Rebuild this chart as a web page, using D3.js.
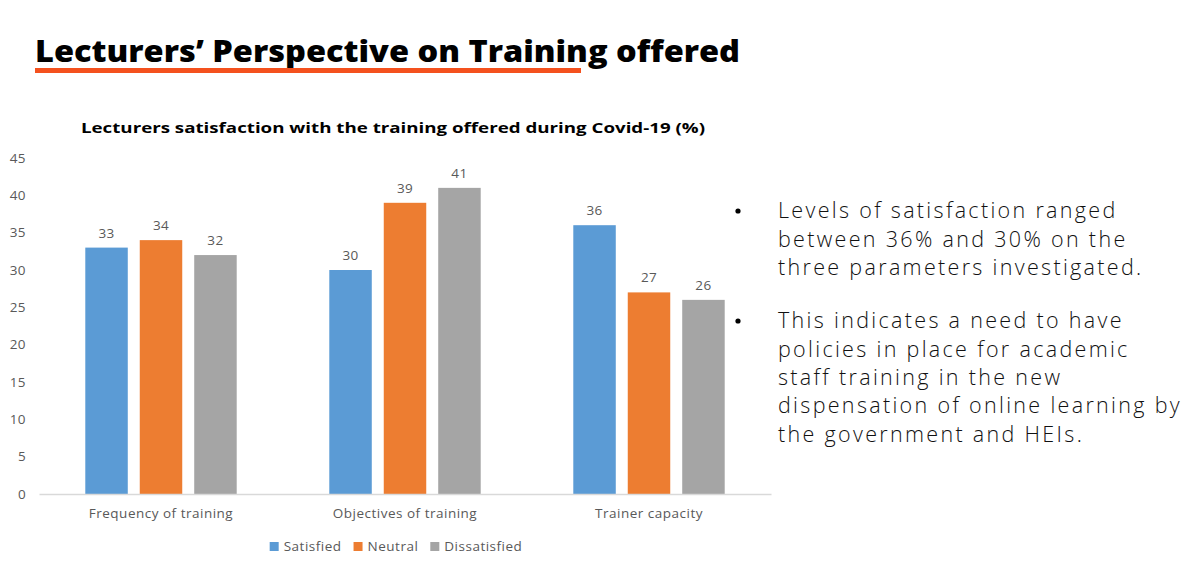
<!DOCTYPE html>
<html>
  <head>
    <meta charset="utf-8">
    <title>Lecturers' Perspective on Training offered</title>
    <script src="https://cdn.jsdelivr.net/npm/d3@7"></script>
    <style>
      body { margin: 0; background: #fff; }
      svg { display: block; }
    </style>
  </head>
  <body>
    <div id="slide"></div>
    <script>

    // data (%)
    var categories = ["Frequency of training", "Objectives of training", "Trainer capacity"];
    var seriesNames = ["Satisfied", "Neutral", "Dissatisfied"];
    var satisfied = [33, 30, 36];
    var neutral = [34, 39, 27];
    var dissatisfied = [32, 41, 26];
    var yTicks = [0, 5, 10, 15, 20, 25, 30, 35, 40, 45];
    var colors = ["#5b9bd5", "#ed7d31", "#a5a5a5"];

    var bullets = [
      ["Levels of satisfaction ranged", "between 36% and 30% on the", "three parameters investigated."],
      ["This indicates a need to have", "policies in place for academic", "staff training in the new",
       "dispensation of online learning by", "the government and HEIs."]
    ];

    var W = 1194, H = 582;
    var margin = {top: 158, left: 39, right: W - 771, bottom: H - 494};
    var width = W - margin.left - margin.right,
        height = H - margin.top - margin.bottom;
    var small = "13.5px";

    var svg = d3.select("#slide").append("svg").attr("width", W).attr("height", H);

    // slide heading
    svg.append("text")
      .attr("x", 35).attr("y", 62)
      .attr("font-family", "Open Sans").attr("font-weight", 800)
      .attr("font-size", "30px").attr("fill", "#000")
      .attr("textLength", 705).attr("lengthAdjust", "spacingAndGlyphs")
      .text("Lecturers\u2019 Perspective on Training offered");
    svg.append("rect").attr("x", 35).attr("y", 68).attr("width", 546).attr("height", 5)
      .attr("fill", "#f4511e");

    // chart title
    svg.append("text")
      .attr("x", 393).attr("y", 133).attr("text-anchor", "middle")
      .attr("font-family", "Open Sans").attr("font-weight", 700)
      .attr("font-size", "15px").attr("fill", "#000")
      .attr("textLength", 624).attr("lengthAdjust", "spacingAndGlyphs")
      .text("Lecturers satisfaction with the training offered during Covid-19 (%)");

    var g = svg.append("g").attr("transform", "translate(" + margin.left + "," + margin.top + ")");

    var x0 = d3.scaleBand().domain(categories).range([0, width]);
    var x1 = d3.scaleBand().domain(seriesNames).range([0, x0.bandwidth()])
      .paddingInner(0.22).paddingOuter(0.85);
    var y = d3.scaleLinear().domain([0, 45]).range([height, 0]);

    var rows = categories.map(function(c, i) {
      return {cat: c, values: [satisfied[i], neutral[i], dissatisfied[i]]};
    });

    var groups = g.selectAll(".grp").data(rows).enter().append("g")
      .attr("class", "grp")
      .attr("transform", function(d) { return "translate(" + x0(d.cat) + ",0)"; });

    groups.selectAll("rect")
      .data(function(d) { return d.values.map(function(v, i) { return {s: seriesNames[i], v: v, i: i}; }); })
      .enter().append("rect")
      .attr("x", function(d) { return x1(d.s); })
      .attr("width", x1.bandwidth())
      .attr("y", function(d) { return y(d.v); })
      .attr("height", function(d) { return height - y(d.v); })
      .attr("fill", function(d) { return colors[d.i]; });

    groups.selectAll(".lbl")
      .data(function(d) { return d.values.map(function(v, i) { return {s: seriesNames[i], v: v}; }); })
      .enter().append("text")
      .attr("class", "lbl")
      .attr("x", function(d) { return x1(d.s) + x1.bandwidth() / 2; })
      .attr("y", function(d) { return y(d.v) - 10; })
      .attr("text-anchor", "middle")
      .attr("font-family", "Open Sans").attr("font-size", small).attr("fill", "#595959")
      .attr("letter-spacing", "0.4px")
      .text(function(d) { return d.v; });

    // axes
    var yAxis = g.append("g").attr("transform", "translate(-13,0)")
      .call(d3.axisLeft(y).tickValues(yTicks).tickSize(0).tickPadding(0));
    yAxis.select(".domain").remove();
    yAxis.selectAll("text").attr("font-family", "Open Sans").attr("font-size", small)
      .attr("fill", "#595959").attr("letter-spacing", "0.4px");

    var xAxis = g.append("g").attr("transform", "translate(0," + height + ")")
      .call(d3.axisBottom(x0).tickSize(0).tickPadding(14));
    xAxis.select(".domain").attr("stroke", "#d9d9d9").attr("stroke-width", 1.5);
    xAxis.selectAll("text").attr("font-family", "Open Sans").attr("font-size", small)
      .attr("fill", "#595959").attr("letter-spacing", "0.5px");

    // legend
    var legend = svg.append("g").attr("transform", "translate(0,551)");
    var items = legend.selectAll("g").data(seriesNames).enter().append("g");
    items.append("rect").attr("y", -9).attr("width", 9).attr("height", 9)
      .attr("fill", function(d, i) { return colors[i]; });
    items.append("text").attr("x", 14).attr("y", 0)
      .attr("font-family", "Open Sans").attr("font-size", small).attr("fill", "#595959")
      .attr("letter-spacing", "0.5px")
      .text(function(d) { return d; });
    var lx = [], cur = 0;
    items.each(function() {
      var w = this.getBBox().width;
      lx.push(cur);
      cur += w + 12;
    });
    var start = 396 - (cur - 12) / 2;
    items.attr("transform", function(d, i) { return "translate(" + (start + lx[i]) + ",0)"; });

    // bullet text on the right
    var bg = svg.append("g");
    var baselines = [[218, 247, 275], [328, 357, 385, 413, 442]];
    bullets.forEach(function(lines, b) {
      bg.append("circle").attr("cx", 738).attr("cy", baselines[b][0] - 7).attr("r", 2.6).attr("fill", "#000");
      lines.forEach(function(t, k) {
        bg.append("text").attr("class", "bl")
          .attr("x", 778).attr("y", baselines[b][k])
          .attr("font-family", "Open Sans").attr("font-weight", 300)
          .attr("font-size", "21.5px").attr("fill", "#111")
          .text(t);
      });
    });
    // widen the letter spacing so the longest line spans the same width as the slide
    var longest = 0, longestChars = 1;
    bg.selectAll(".bl").each(function() {
      var w = this.getComputedTextLength();
      if (w > longest) { longest = w; longestChars = this.textContent.length; }
    });
    var ls = (404 - longest) / longestChars;
    bg.selectAll(".bl").attr("letter-spacing", ls + "px");

    </script>
  </body>
</html>
